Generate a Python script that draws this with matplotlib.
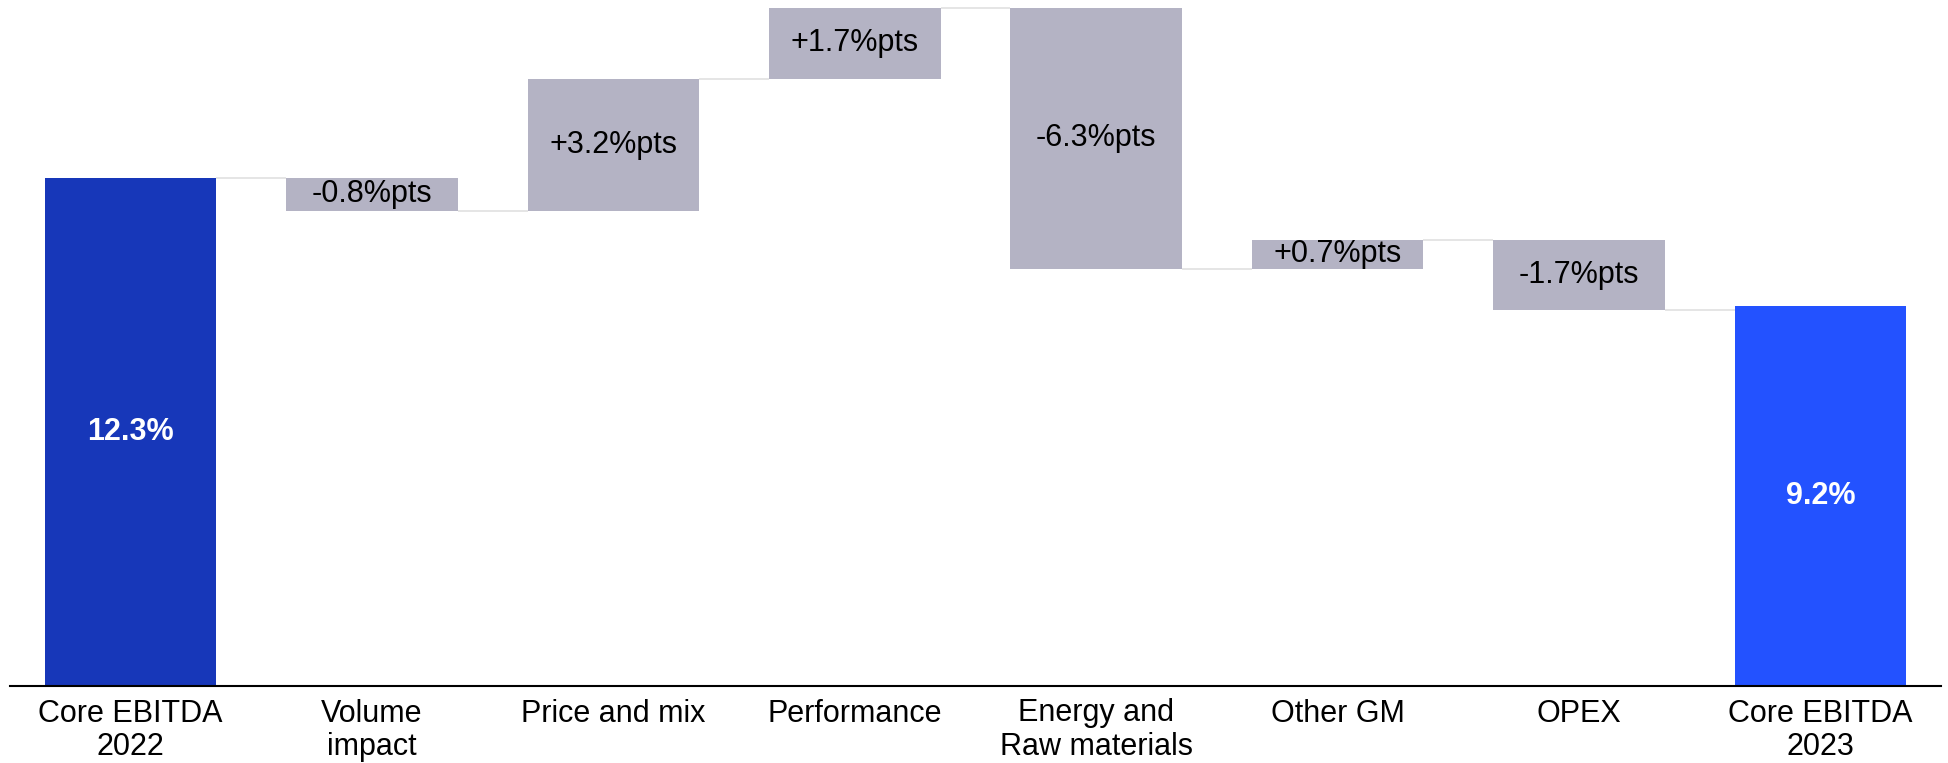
import matplotlib.pyplot as plt

plt.rcParams["font.family"] = ["Liberation Sans", "DejaVu Sans"]

categories = [
    "Core EBITDA\n2022",
    "Volume\nimpact",
    "Price and mix",
    "Performance",
    "Energy and\nRaw materials",
    "Other GM",
    "OPEX",
    "Core EBITDA\n2023",
]
start_value = 12.3
end_value = 9.2
changes = [-0.8, 3.2, 1.7, -6.3, 0.7, -1.7]

START_COLOR = "#1737B9"
END_COLOR = "#2352FF"
STEP_COLOR = "#B4B3C4"
LINK_COLOR = "#E0E0E0"
BAR_W = 0.71

fig = plt.figure(figsize=(19.48, 7.63), dpi=100)
ax = fig.add_axes([10 / 1948, 77 / 763, 1931 / 1948, 686 / 763])

# opening total
ax.bar(0, start_value, width=BAR_W, color=START_COLOR)
ax.text(0, start_value / 2, f"{start_value:.1f}%", ha="center", va="center",
        color="white", fontsize=22, fontweight="bold")

# step bars, each floating on the running total
level = start_value
levels = [level]
for i, d in enumerate(changes, start=1):
    lo = min(level, level + d)
    ax.bar(i, abs(d), bottom=lo, width=BAR_W, color=STEP_COLOR)
    ax.text(i, lo + abs(d) / 2, f"{d:+.1f}%pts", ha="center", va="center",
            color="black", fontsize=22)
    level += d
    levels.append(level)

# closing total
n = len(categories) - 1
ax.bar(n, end_value, width=BAR_W, color=END_COLOR)
ax.text(n, end_value / 2, f"{end_value:.1f}%", ha="center", va="center",
        color="white", fontsize=22, fontweight="bold")

# thin connectors between neighbouring bars
for i, lv in enumerate(levels):
    ax.plot([i + BAR_W / 2, i + 1 - BAR_W / 2], [lv, lv], color=LINK_COLOR,
            linewidth=1.2, solid_capstyle="butt")

ax.set_xlim(-0.5, n + 0.5)
ax.set_ylim(0, 16.6)
ax.set_xticks(range(len(categories)))
ax.set_xticklabels(categories, fontsize=22, linespacing=1.15)
ax.tick_params(axis="x", length=0, pad=9)
ax.set_yticks([])
for side in ("top", "left", "right"):
    ax.spines[side].set_visible(False)
ax.spines["bottom"].set_color("black")
ax.spines["bottom"].set_linewidth(1.5)

fig.savefig("out.png", dpi=100, facecolor="white")
